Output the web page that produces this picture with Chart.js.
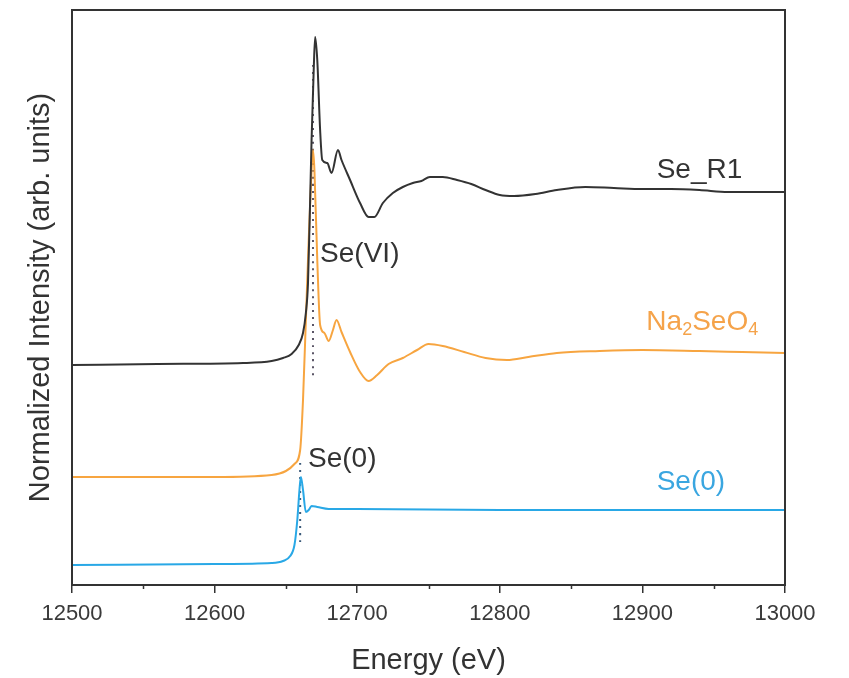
<!DOCTYPE html>
<html>
<head>
<meta charset="utf-8">
<script src="https://cdn.jsdelivr.net/npm/chart.js@4"></script>
<style>
  html, body { margin: 0; padding: 0; background: #fff; }
  #wrap { width: 849px; height: 678px; }
</style>
</head>
<body>
<div id="wrap"><canvas id="graf" width="849" height="678"></canvas></div>
<script>
// energies (eV) and normalized intensities, offset per curve
var seR1Energy = [12500, 12560, 12620, 12640, 12648, 12654, 12659, 12662, 12664, 12665.5, 12667, 12668, 12669.5, 12670.5, 12672, 12674, 12675.5, 12679, 12682, 12686.5, 12689, 12695, 12702, 12708, 12712, 12718, 12725, 12732, 12739, 12745, 12751, 12760, 12770, 12780, 12790, 12800, 12810, 12825, 12840, 12860, 12880, 12900, 12920, 12940, 12960, 12980, 13000];
var seR1Intensity = [2.20, 2.21, 2.22, 2.24, 2.27, 2.31, 2.40, 2.52, 2.72, 3.02, 3.85, 4.45, 5.15, 5.48, 5.25, 4.55, 4.25, 4.22, 4.12, 4.35, 4.25, 4.05, 3.82, 3.68, 3.68, 3.82, 3.92, 3.98, 4.02, 4.04, 4.08, 4.08, 4.05, 4.01, 3.95, 3.90, 3.89, 3.91, 3.95, 3.98, 3.97, 3.96, 3.96, 3.95, 3.93, 3.93, 3.93];

var naEnergy = [12500, 12600, 12640, 12650, 12656, 12660, 12662, 12664, 12666, 12668, 12669, 12670, 12672, 12674, 12677, 12680, 12683, 12685.5, 12689, 12695, 12702, 12708, 12714, 12722, 12732, 12742, 12750, 12760, 12775, 12790, 12805, 12820, 12840, 12870, 12900, 12940, 12970, 13000];
var naIntensity = [1.08, 1.08, 1.10, 1.14, 1.21, 1.35, 1.85, 2.65, 3.45, 4.15, 4.35, 4.15, 3.25, 2.60, 2.52, 2.44, 2.55, 2.65, 2.53, 2.33, 2.13, 2.04, 2.10, 2.21, 2.27, 2.35, 2.41, 2.39, 2.33, 2.27, 2.25, 2.28, 2.32, 2.34, 2.35, 2.34, 2.33, 2.32];

var se0Energy = [12500, 12600, 12640, 12648, 12653, 12656, 12658, 12659.5, 12660.5, 12662, 12664, 12666, 12668, 12672, 12680, 12700, 12800, 12900, 13000];
var se0Intensity = [0.20, 0.21, 0.22, 0.24, 0.29, 0.40, 0.65, 0.95, 1.08, 0.95, 0.73, 0.75, 0.79, 0.78, 0.76, 0.76, 0.75, 0.75, 0.75];

// dotted edge markers
var seVIMarkEnergy = [12669, 12669];
var seVIMarkIntensity = [5.20, 2.07];
var se0MarkEnergy = [12660, 12660];
var se0MarkIntensity = [1.22, 0.40];

var xTicks = [12500, 12600, 12700, 12800, 12900, 13000];
var xMinorTicks = [12550, 12650, 12750, 12850, 12950];

// text labels
var labelText = ['Se_R1', 'Se(VI)', 'Na2SeO4', 'Se(0)', 'Se(0)'];
var labelEnergy = [12940, 12674, 12942, 12665.5, 12934];
var labelIntensity = [4.15, 3.31, 2.63, 1.26, 1.03];

var FONT = '"Liberation Sans", Arial, sans-serif';

function toPoints(xs, ys) {
    return xs.map(function (x, i) { return { x: x, y: ys[i] }; });
}

var frame = {
    id: 'frame',
    afterDraw: function (chart) {
        var ctx = chart.ctx, a = chart.chartArea, xs = chart.scales.x;
        ctx.save();
        ctx.strokeStyle = '#333';
        ctx.lineWidth = 2;
        ctx.strokeRect(a.left, a.top, a.right - a.left, a.bottom - a.top);
        // minor ticks
        ctx.lineWidth = 1.5;
        xMinorTicks.forEach(function (v) {
            var px = Math.round(xs.getPixelForValue(v)) + 0.5;
            ctx.beginPath();
            ctx.moveTo(px, a.bottom);
            ctx.lineTo(px, a.bottom + 4);
            ctx.stroke();
        });
        // labels
        var ys = chart.scales.y;
        var colours = ['#333', '#333', '#f5a34a', '#333', '#3aa6e0'];
        var aligns = ['center', 'left', 'center', 'left', 'center'];
        ctx.textBaseline = 'middle';
        labelText.forEach(function (t, i) {
            var px = xs.getPixelForValue(labelEnergy[i]);
            var py = ys.getPixelForValue(labelIntensity[i]);
            ctx.fillStyle = colours[i];
            if (t === 'Na2SeO4') {
                // subscripts
                var parts = [['Na', 0], ['2', 1], ['SeO', 0], ['4', 1]];
                var w = 0;
                parts.forEach(function (p) {
                    ctx.font = (p[1] ? '18px ' : '28px ') + FONT;
                    w += ctx.measureText(p[0]).width;
                });
                var cx = px - w / 2;
                ctx.textAlign = 'left';
                parts.forEach(function (p) {
                    ctx.font = (p[1] ? '18px ' : '28px ') + FONT;
                    ctx.fillText(p[0], cx, py + (p[1] ? 8 : 0));
                    cx += ctx.measureText(p[0]).width;
                });
            } else {
                ctx.font = '28px ' + FONT;
                ctx.textAlign = aligns[i];
                ctx.fillText(t, px, py);
            }
        });
        ctx.restore();
    }
};

var ctx = document.getElementById('graf').getContext('2d');
var myChart = new Chart(ctx, {
    type: 'line',
    data: {
        datasets: [{
            label: 'Se_R1',
            data: toPoints(seR1Energy, seR1Intensity),
            borderColor: '#333333',
            borderWidth: 2
        }, {
            label: 'Na2SeO4',
            data: toPoints(naEnergy, naIntensity),
            borderColor: '#f7a540',
            borderWidth: 2
        }, {
            label: 'Se(0)',
            data: toPoints(se0Energy, se0Intensity),
            borderColor: '#29a8e6',
            borderWidth: 2
        }, {
            label: 'Se(VI) edge',
            data: toPoints(seVIMarkEnergy, seVIMarkIntensity),
            borderColor: '#5a5566',
            borderWidth: 2,
            borderDash: [2, 5]
        }, {
            label: 'Se(0) edge',
            data: toPoints(se0MarkEnergy, se0MarkIntensity),
            borderColor: '#3b5a7a',
            borderWidth: 2,
            borderDash: [2, 5]
        }]
    },
    options: {
        responsive: false,
        animation: false,
        elements: { point: { radius: 0 }, line: { cubicInterpolationMode: 'monotone' } },
        layout: { padding: { left: 0, right: 64, top: 10, bottom: 0 } },
        plugins: { legend: { display: false }, tooltip: { enabled: false } },
        scales: {
            x: {
                type: 'linear',
                min: 12500,
                max: 13000,
                afterBuildTicks: function (axis) {
                    axis.ticks = xTicks.map(function (v) { return { value: v }; });
                },
                afterFit: function (axis) { axis.height = 93; },
                border: { display: false },
                grid: { drawOnChartArea: false, tickLength: 8, color: '#333', lineWidth: 1.5 },
                ticks: {
                    color: '#3a3a3a',
                    padding: 8,
                    maxRotation: 0,
                    callback: function (v) { return String(v); },
                    font: { family: FONT, size: 22 }
                },
                title: {
                    display: true,
                    text: 'Energy (eV)',
                    color: '#333',
                    padding: { top: 0, bottom: 0 },
                    font: { family: FONT, size: 29 }
                }
            },
            y: {
                min: 0,
                max: 5.75,
                afterFit: function (axis) { axis.width = 72; },
                border: { display: false },
                grid: { display: false },
                ticks: { display: false },
                title: {
                    display: true,
                    text: 'Normalized Intensity (arb. units)',
                    color: '#333',
                    padding: { top: 24, bottom: 0 },
                    font: { family: FONT, size: 29 }
                }
            }
        }
    },
    plugins: [frame]
});
</script>
</body>
</html>
